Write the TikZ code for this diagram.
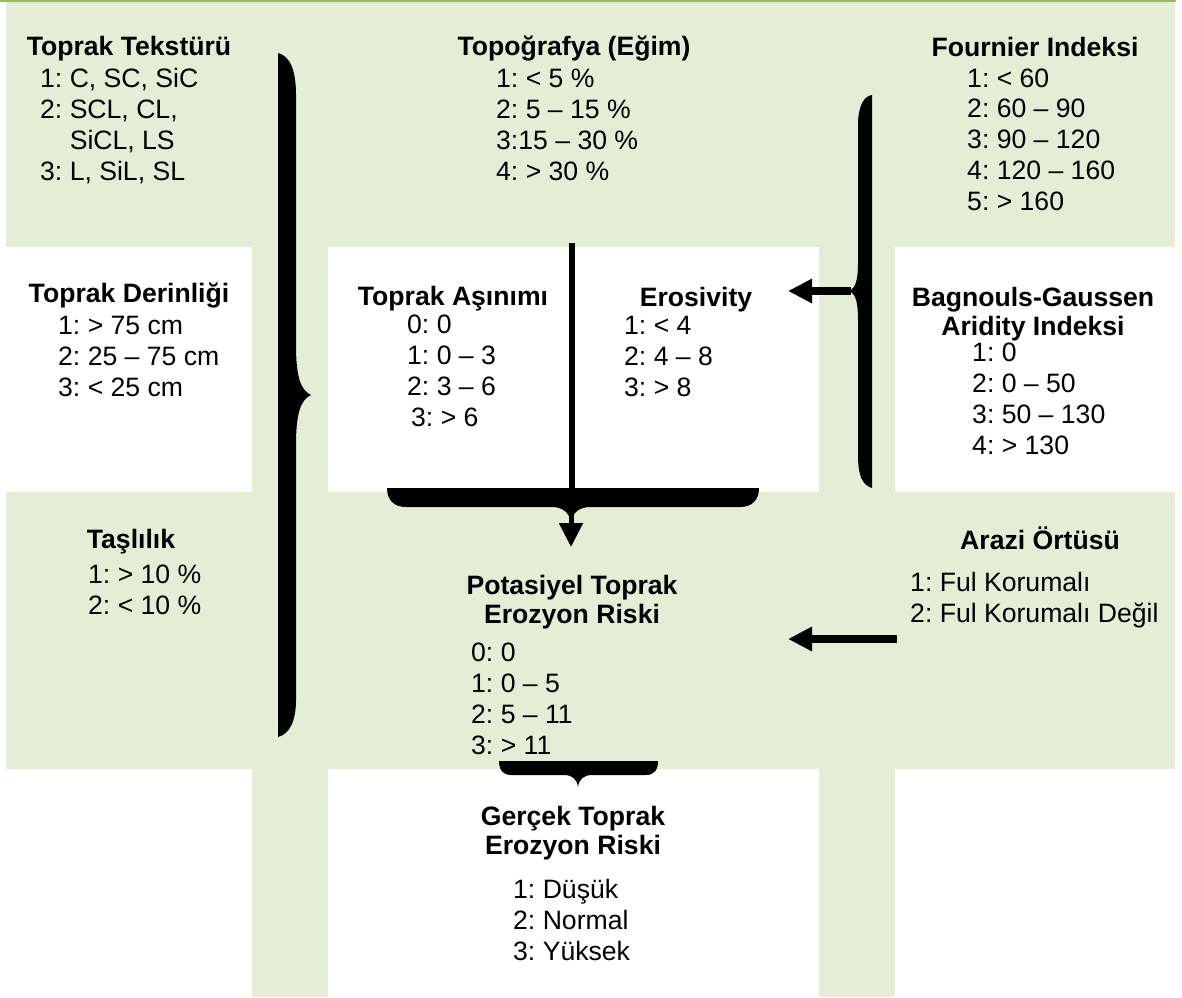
\documentclass[tikz,border=0pt]{standalone}
\usepackage{fontspec}
\setmainfont{Liberation Sans}
\usetikzlibrary{arrows.meta}
\definecolor{celltint}{HTML}{E5EDD7}
\definecolor{olivetop}{HTML}{9BBB59}

\tikzset{
  head/.style={font=\fontsize{26.6}{29}\selectfont\bfseries, anchor=base, inner sep=0pt, align=center},
  vals/.style={font=\fontsize{26.6}{30.7}\selectfont, anchor=base west, inner sep=0pt, align=left},
  fatarrow/.style={line width=8pt, -{Triangle[length=24pt,width=23pt]}},
}

\begin{document}
\frenchspacing
\begin{tikzpicture}[x=1pt,y=-1pt]
  \useasboundingbox (0,0) rectangle (1182,997);

  % table shading
  \fill[celltint] (6,2) rectangle (1175,769);
  \fill[celltint] (252,769) rectangle (328,997);
  \fill[celltint] (819,769) rectangle (895,997);
  \fill[white] (6,247) rectangle (252,492);
  \fill[white] (328,247) rectangle (819,492);
  \fill[white] (895,247) rectangle (1175,492);
  \draw[olivetop, line width=2pt] (0,1) -- (1176,1);

  % first row (multi-line nodes sit on their last baseline)
  \node[head] (tekstur) at (129,55) {Toprak Tekstürü};
  \node[vals] (teksturval) at (40,180) {1: C, SC, SiC\\2: SCL, CL,\\\phantom{2: }SiCL, LS\\3: L, SiL, SL};

  \node[head] (topografya) at (574,55) {Topoğrafya (Eğim)};
  \node[vals] (topografyaval) at (496,180) {1: < 5 \%\\2: 5 – 15 \%\\3:15 – 30 \%\\4: > 30 \%};

  \node[head] (fournier) at (1035,56) {Fournier Indeksi};
  \node[vals] (fournierval) at (967,210) {1: < 60\\2: 60 – 90\\3: 90 – 120\\4: 120 – 160\\5: > 160};

  % second row
  \node[head] (derinlik) at (129,302) {Toprak Derinliği};
  \node[vals] (derinlikval) at (58,396) {1: > 75 cm\\2: 25 – 75 cm\\3: < 25 cm};

  \node[head] (asinim) at (453,305) {Toprak Aşınımı};
  \node[vals] (asinimval) at (407,426) {0: 0\\1: 0 – 3\\2: 3 – 6\\\hspace*{4pt}3: > 6};

  \node[head] (erosivity) at (696,306) {Erosivity};
  \node[vals] (erosivityval) at (624,396) {1: < 4\\2: 4 – 8\\3: > 8};

  \node[head] (aridity) at (1033,335) {Bagnouls-Gaussen\\Aridity Indeksi};
  \node[vals] (aridityval) at (972,454) {1: 0\\2: 0 – 50\\3: 50 – 130\\4: > 130};

  % third row
  \node[head] (taslilik) at (131,548) {Taşlılık};
  \node[vals] (taslilikval) at (88,614) {1: > 10 \%\\2: < 10 \%};

  \node[head] (potansiyel) at (572,623) {Potasiyel Toprak\\Erozyon Riski};
  \node[vals] (potansiyelval) at (471,754) {0: 0\\1: 0 – 5\\2: 5 – 11\\3: > 11};

  \node[head] (arazi) at (1040,549) {Arazi Örtüsü};
  \node[vals] (arazival) at (910,622) {1: Ful Korumalı\\2: Ful Korumalı Değil};

  % last row
  \node[head] (gercek) at (573,854) {Gerçek Toprak\\Erozyon Riski};
  \node[vals] (gercekval) at (513,960) {1: Düşük\\2: Normal\\3: Yüksek};

  % braces
  \fill (278,53) .. controls (290,56) and (296,70) .. (296,95) -- (296,345)
    .. controls (296,375) and (300,390) .. (311,395)
    .. controls (300,400) and (296,415) .. (296,445) -- (296,700)
    .. controls (296,720) and (290,734) .. (278,737) -- cycle;
  \fill (872,95) .. controls (864,96) and (858,106) .. (858,125) -- (858,262)
    .. controls (858,279) and (856,287) .. (850,291)
    .. controls (856,295) and (858,303) .. (858,320) -- (858,455)
    .. controls (858,475) and (862,485) .. (872,488) -- cycle;
  \fill (387,488) -- (759,488) .. controls (759,500) and (752,507) .. (740,507) -- (590,507)
    .. controls (580,507) and (573,512) .. (571,522)
    .. controls (569,512) and (562,507) .. (552,507) -- (406,507)
    .. controls (394,507) and (387,500) .. (387,488) -- cycle;
  \fill (499,761) -- (658,761) .. controls (658,770) and (654,775) .. (646,775) -- (592,775)
    .. controls (584,775) and (579,779) .. (578,787)
    .. controls (577,779) and (572,775) .. (564,775) -- (511,775)
    .. controls (503,775) and (499,770) .. (499,761) -- cycle;

  % connectors
  \coordinate (slopefoot) at (572,243);
  \coordinate (slopejoin) at (572,490);
  \coordinate (climtip) at (851,291);
  \coordinate (climend) at (788,291);
  \coordinate (covertail) at (897,639);
  \coordinate (coverend) at (788,639);
  \coordinate (riskcusp) at (571,512);
  \coordinate (riskend) at (571,547);
  \draw[line width=6pt] (slopefoot) -- (slopejoin);
  \draw[fatarrow] (climtip) -- (climend);
  \draw[fatarrow] (covertail) -- (coverend);
  \draw[line width=5pt, -{Triangle[length=24pt,width=23pt]}] (riskcusp) -- (riskend);
\end{tikzpicture}
\end{document}
